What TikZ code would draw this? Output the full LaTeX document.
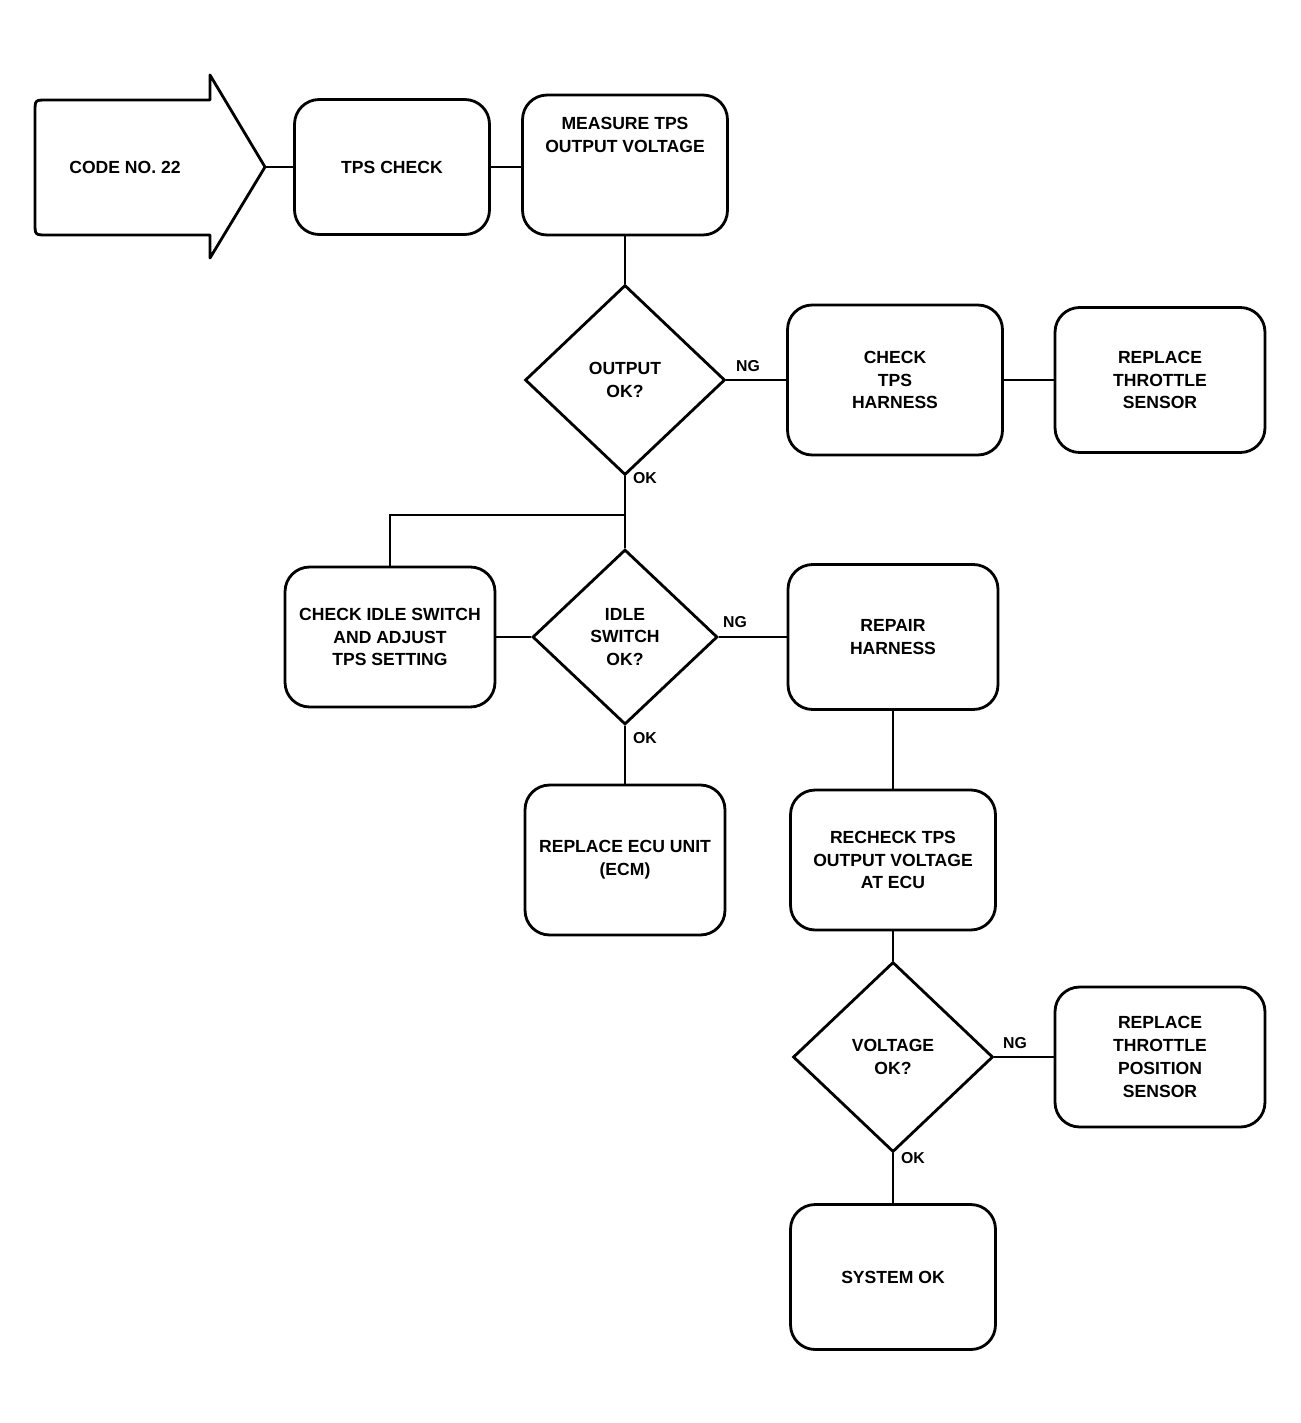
\documentclass[tikz,border=0pt]{standalone}
\usepackage{fontspec}
\setmainfont{Liberation Sans}
\usetikzlibrary{shapes.geometric}
\begin{document}
\begin{tikzpicture}[x=0.02cm,y=-0.02cm,
  every node/.style={font=\fontsize{10}{13}\selectfont\bfseries},
  boxnode/.style={draw,line width=1.6pt,rounded corners=14pt,align=center,inner sep=2pt},
  decnode/.style={draw,diamond,line width=1.6pt,align=center,inner sep=0pt},
  txtnode/.style={align=center,inner sep=1pt},
  yesno/.style={font=\fontsize{9}{11}\selectfont\bfseries,inner sep=1pt},
  conn/.style={line width=1.6pt}]
\useasboundingbox (0,0) rectangle (1301,1423);
% start arrow shape
\draw[line width=1.6pt,line join=round] (47,100) -- (210,100) -- (210,75) -- (265,167) -- (210,258) -- (210,235) -- (47,235) .. controls (35,235) .. (35,223) -- (35,112) .. controls (35,100) .. (47,100) -- cycle;
\node[txtnode] (b1) at (125,167) {CODE NO. 22};
\coordinate (tip) at (265,167);
\node[boxnode,minimum width=3.9cm,minimum height=2.7cm] (b2) at (392,167) {TPS CHECK};
\node[boxnode,minimum width=4.1cm,minimum height=2.8cm] (b3) at (625,165) {};
\node[txtnode] (b3t) at (625,135) {MEASURE TPS\\OUTPUT VOLTAGE};
\node[decnode,minimum width=4.0cm,minimum height=3.8cm] (d1) at (625,380) {OUTPUT\\OK?};
\node[boxnode,minimum width=4.3cm,minimum height=3.0cm] (b4) at (895,380) {CHECK\\TPS\\HARNESS};
\node[boxnode,minimum width=4.2cm,minimum height=2.9cm] (b5) at (1160,380) {REPLACE\\THROTTLE\\SENSOR};
\node[decnode,minimum width=3.7cm,minimum height=3.5cm] (d2) at (625,637) {IDLE\\SWITCH\\OK?};
\node[boxnode,minimum width=4.2cm,minimum height=2.8cm] (b6) at (390,637) {CHECK IDLE SWITCH\\AND ADJUST\\TPS SETTING};
\node[boxnode,minimum width=4.2cm,minimum height=2.9cm] (b7) at (893,637) {REPAIR\\HARNESS};
\node[boxnode,minimum width=4.0cm,minimum height=3.0cm] (b8) at (625,860) {REPLACE ECU UNIT\\(ECM)};
\node[boxnode,minimum width=4.1cm,minimum height=2.8cm] (b9) at (893,860) {RECHECK TPS\\OUTPUT VOLTAGE\\AT ECU};
\node[decnode,minimum width=4.0cm,minimum height=3.8cm] (d3) at (893,1057) {VOLTAGE\\OK?};
\node[boxnode,minimum width=4.2cm,minimum height=2.8cm] (b10) at (1160,1057) {REPLACE\\THROTTLE\\POSITION\\SENSOR};
\node[boxnode,minimum width=4.1cm,minimum height=2.9cm] (b11) at (893,1277) {SYSTEM OK};
% connectors
\draw[conn] (tip) -- (b2.west);
\draw[conn] (b2.east) -- (b3.west |- b2.east);
\draw[conn] (b3.south) -- (d1.north);
\draw[conn] (d1.east) -- (b4.west);
\draw[conn] (b4.east) -- (b5.west);
\coordinate (j1) at (d1.south |- 0,515);
\coordinate (j2) at (b6.north |- 0,515);
\draw[conn] (d1.south) -- (d2.north);
\draw[conn] (j1) -- (j2) -- (b6.north);
\draw[conn] (d2.west) -- (b6.east);
\draw[conn] (d2.east) -- (b7.west);
\draw[conn] (d2.south) -- (b8.north);
\draw[conn] (b7.south) -- (b9.north);
\draw[conn] (b9.south) -- (d3.north);
\draw[conn] (d3.east) -- (b10.west);
\draw[conn] (d3.south) -- (b11.north);
% labels
\node[yesno] (l1) at (748,366) {NG};
\node[yesno] (l2) at (645,478) {OK};
\node[yesno] (l3) at (735,622) {NG};
\node[yesno] (l4) at (645,738) {OK};
\node[yesno] (l5) at (1015,1043) {NG};
\node[yesno] (l6) at (913,1158) {OK};
\end{tikzpicture}
\end{document}
